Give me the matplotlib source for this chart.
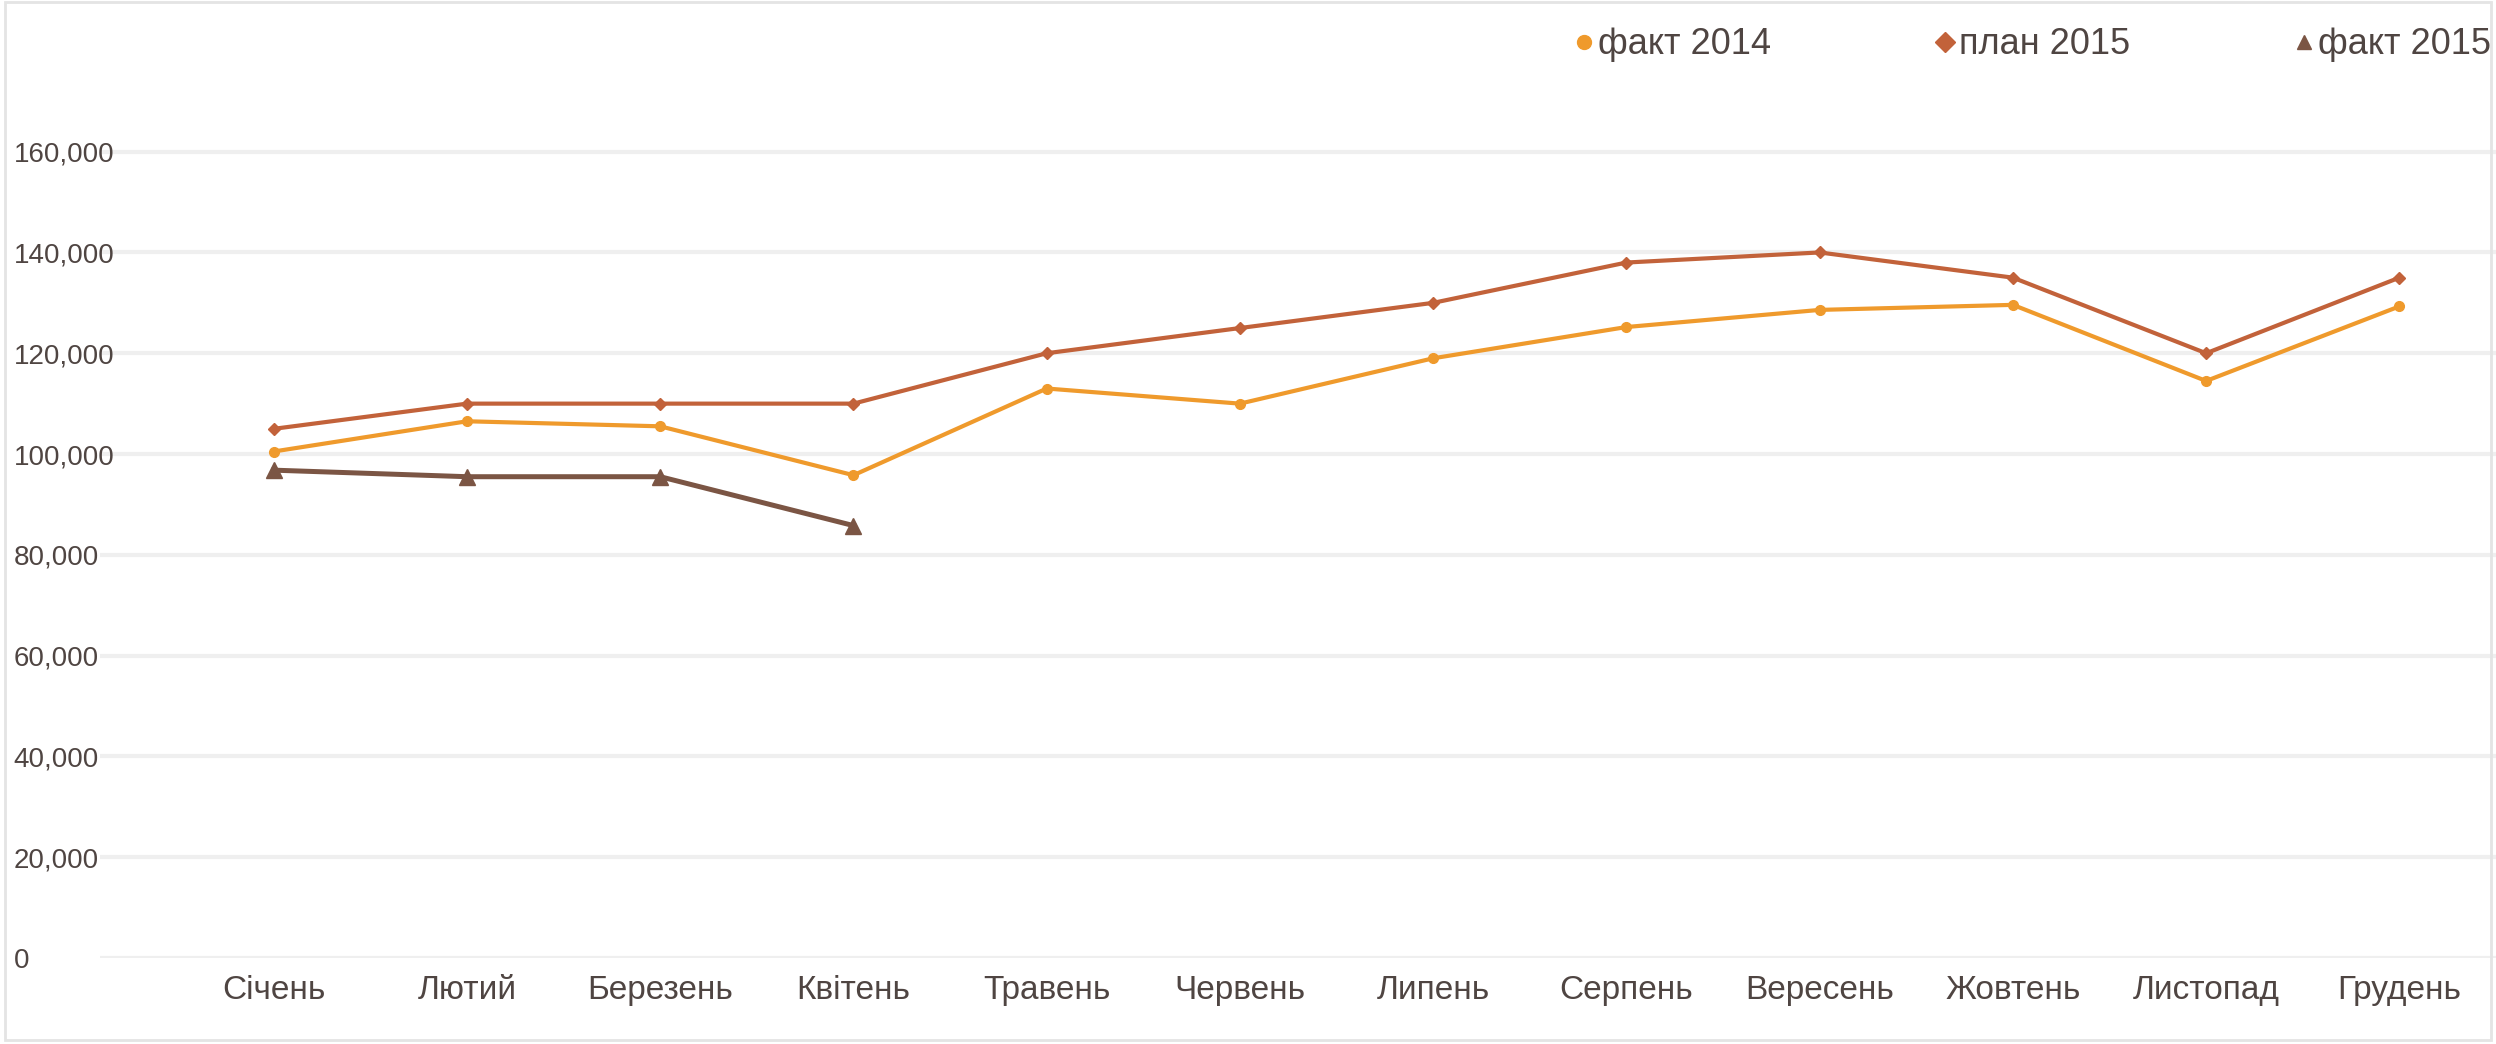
import matplotlib.pyplot as plt
from matplotlib.ticker import FuncFormatter
from matplotlib.patches import Rectangle

months = ['Січень', 'Лютий', 'Березень', 'Квітень', 'Травень', 'Червень',
          'Липень', 'Серпень', 'Вересень', 'Жовтень', 'Листопад', 'Грудень']
fact_2014 = [100500, 106500, 105500, 95800, 113000, 110000,
             119000, 125200, 128600, 129600, 114500, 129300]
plan_2015 = [105000, 110000, 110000, 110000, 120000, 125000,
             130000, 138000, 140000, 135000, 120000, 135000]
fact_2015 = [96800, 95500, 95500, 85800]
y_ticks = [0, 20000, 40000, 60000, 80000, 100000, 120000, 140000, 160000]

col_2014 = '#ef9a2c'
col_plan = '#c2623a'
col_fact = '#7b5544'
text_col = '#4f4542'
font = ['Liberation Sans']

fig = plt.figure(figsize=(24.96, 10.44), dpi=100)
ax = fig.add_axes([0.04, 0.0824, 0.96, 0.8206])

x = list(range(len(months)))
ax.plot(x, fact_2014, color=col_2014, lw=3, marker='o', ms=7, label='факт 2014', zorder=3)
ax.plot(x, plan_2015, color=col_plan, lw=3, marker='D', ms=6, label='план 2015', zorder=3)
ax.plot(x[:len(fact_2015)], fact_2015, color=col_fact, lw=3.6, marker='^', ms=11,
        label='факт 2015', zorder=4)

ax.set_xlim(-0.9, 11.5)
ax.set_ylim(0, 170000)
ax.set_yticks(y_ticks)
ax.yaxis.set_major_formatter(FuncFormatter(lambda v, p: f'{int(v):,}'))
ax.grid(axis='y', color='#efefef', lw=3)
ax.set_axisbelow(True)
for s in ax.spines.values():
    s.set_visible(False)

ax.set_xticks(x)
ax.set_xticklabels(months, fontsize=24, color=text_col, family=font)
ax.tick_params(axis='x', length=0, pad=12)
ax.tick_params(axis='y', length=0, pad=62)
for lbl in ax.get_yticklabels():
    lbl.set_horizontalalignment('left')
    lbl.set_fontsize(20)
    lbl.set_color(text_col)
    lbl.set_family(font)

leg = fig.legend(loc='center right', bbox_to_anchor=(1.011, 0.957), ncol=3, frameon=False,
                 handlelength=0.6, handletextpad=0.1, columnspacing=4.5,
                 prop={'family': font, 'size': 26}, labelcolor=text_col)
for h in leg.legend_handles:
    h.set_linewidth(0)
    h.set_markersize(10)

fig.patches.append(Rectangle((0.002, 0.004), 0.996, 0.994, transform=fig.transFigure,
                             fill=False, edgecolor='#e4e4e4', lw=2))

fig.savefig('out.png', dpi=100)
